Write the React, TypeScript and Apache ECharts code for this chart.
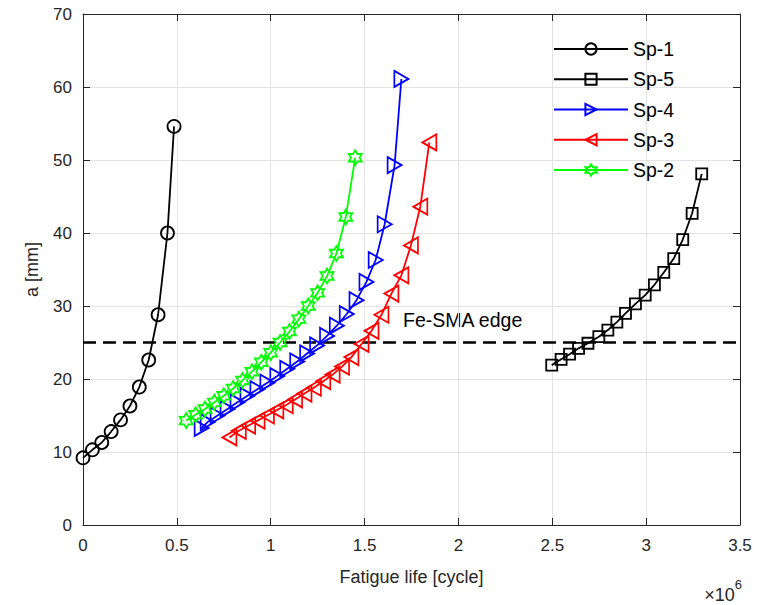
import React, { useEffect, useRef } from "react";
import * as echarts from "echarts";

// Fatigue life in units of 10^6 cycles, crack length a in mm
const sp1Life = [0, 0.05, 0.1, 0.15, 0.2, 0.25, 0.3, 0.35, 0.4, 0.45, 0.485];
const sp1A = [9.2, 10.3, 11.3, 12.8, 14.4, 16.3, 18.9, 22.6, 28.8, 40.0, 54.6];

const sp5Life = [2.497, 2.547, 2.592, 2.64, 2.69, 2.748, 2.796, 2.844, 2.89, 2.943, 2.995, 3.044, 3.094, 3.147, 3.195, 3.245, 3.296];
const sp5A = [21.9, 22.7, 23.4, 24.2, 24.9, 25.8, 26.7, 27.8, 29.0, 30.3, 31.5, 32.9, 34.6, 36.5, 39.1, 42.7, 48.1];

const sp4Life = [0.632, 0.664, 0.717, 0.77, 0.823, 0.876, 0.929, 0.982, 1.035, 1.088, 1.141, 1.194, 1.247, 1.3, 1.352, 1.405, 1.457, 1.51, 1.559, 1.607, 1.66, 1.696];
const sp4A = [13.3, 14.1, 15.0, 15.9, 16.8, 17.7, 18.6, 19.5, 20.4, 21.4, 22.4, 23.5, 24.6, 25.9, 27.3, 28.9, 30.8, 33.3, 36.3, 41.2, 49.3, 61.1];

const sp3Life = [0.78, 0.83, 0.88, 0.93, 0.98, 1.03, 1.08, 1.13, 1.18, 1.23, 1.28, 1.33, 1.38, 1.43, 1.484, 1.537, 1.59, 1.643, 1.696, 1.747, 1.797, 1.845];
const sp3A = [12.0, 12.9, 13.6, 14.3, 15.0, 15.7, 16.4, 17.2, 18.0, 18.8, 19.7, 20.6, 21.7, 23.0, 24.8, 26.6, 28.8, 31.7, 34.2, 38.3, 43.6, 52.4];

const sp2Life = [0.55, 0.6, 0.65, 0.7, 0.75, 0.8, 0.85, 0.9, 0.95, 1.0, 1.05, 1.1, 1.15, 1.2, 1.25, 1.3, 1.35, 1.4, 1.45];
const sp2A = [14.3, 15.1, 15.9, 16.8, 17.7, 18.7, 19.8, 21.0, 22.3, 23.6, 25.0, 26.5, 28.2, 30.0, 31.8, 34.1, 37.2, 42.2, 50.3];

const edgeLife = [0, 3.5];
const edgeA = [25, 25];

const xTicks = { min: 0, max: 3.5, interval: 0.5 };
const yTicks = { min: 0, max: 70, interval: 10 };

const FONT = "'Liberation Sans', Arial, Helvetica, sans-serif";
const AXIS_COLOR = "#262626";

const TRI_RIGHT = "path://M0,0 L10,5 L0,10 Z";
const TRI_LEFT = "path://M10,0 L0,5 L10,10 Z";
const HEXAGRAM =
  "path://M5,0 L6.443,2.5 L9.33,2.5 L7.887,5 L9.33,7.5 L6.443,7.5 L5,10 L3.557,7.5 L0.67,7.5 L2.113,5 L0.67,2.5 L3.557,2.5 Z";

const zip = (xs: number[], ys: number[]) => xs.map((x, i) => [x, ys[i]]);

export default function App() {
  const ref = useRef<HTMLDivElement>(null);

  useEffect(() => {
    document.body.style.margin = "0";
    if (!ref.current) return;
    const chart = echarts.init(ref.current, undefined, { renderer: "svg" });

    const mk = (
      name: string,
      xs: number[],
      ys: number[],
      color: string,
      symbol: string,
      size: number | number[]
    ) => ({
      name,
      type: "line",
      data: zip(xs, ys),
      symbol,
      symbolSize: size,
      showAllSymbol: true,
      lineStyle: { color, width: 1.8 },
      itemStyle: { color: "rgba(255,255,255,0)", borderColor: color, borderWidth: 1.8 },
      emphasis: { disabled: true },
      z: 3,
    });

    const grid = { left: 83, right: 18, top: 14, bottom: 80 };

    chart.setOption({
      animation: false,
      grid,
      legend: {
        orient: "vertical",
        left: 553,
        top: 39,
        itemWidth: 74,
        itemHeight: 14,
        itemGap: 10.25,
        padding: 0,
        data: ["Sp-1", "Sp-5", "Sp-4", "Sp-3", "Sp-2"],
        textStyle: { fontFamily: FONT, fontSize: 19.5, color: "#000", lineHeight: 20 },
      },
      xAxis: [
        {
          type: "value",
          ...xTicks,
          position: "bottom",
          name: "Fatigue life [cycle]",
          nameLocation: "middle",
          nameGap: 43,
          nameTextStyle: { fontFamily: FONT, fontSize: 18, color: AXIS_COLOR },
          axisLine: { show: true, onZero: false, lineStyle: { color: AXIS_COLOR, width: 1 } },
          axisTick: { show: true, inside: true, length: 7, lineStyle: { color: AXIS_COLOR } },
          axisLabel: {
            fontFamily: FONT,
            fontSize: 17,
            color: AXIS_COLOR,
            margin: 12,
            formatter: (v: number) => String(v),
          },
          splitLine: { show: true, lineStyle: { color: "#e3e3e3", width: 1 } },
        },
        {
          type: "value",
          ...xTicks,
          position: "top",
          axisLine: { show: true, onZero: false, lineStyle: { color: AXIS_COLOR, width: 1 } },
          axisTick: { show: true, inside: true, length: 7, lineStyle: { color: AXIS_COLOR } },
          axisLabel: { show: false },
          splitLine: { show: false },
        },
      ],
      yAxis: [
        {
          type: "value",
          ...yTicks,
          position: "left",
          name: "a [mm]",
          nameLocation: "middle",
          nameGap: 42,
          nameRotate: 90,
          nameTextStyle: { fontFamily: FONT, fontSize: 18, color: AXIS_COLOR },
          axisLine: { show: true, onZero: false, lineStyle: { color: AXIS_COLOR, width: 1 } },
          axisTick: { show: true, inside: true, length: 7, lineStyle: { color: AXIS_COLOR } },
          axisLabel: { fontFamily: FONT, fontSize: 17, color: AXIS_COLOR, margin: 11 },
          splitLine: { show: true, lineStyle: { color: "#e3e3e3", width: 1 } },
        },
        {
          type: "value",
          ...yTicks,
          position: "right",
          axisLine: { show: true, onZero: false, lineStyle: { color: AXIS_COLOR, width: 1 } },
          axisTick: { show: true, inside: true, length: 7, lineStyle: { color: AXIS_COLOR } },
          axisLabel: { show: false },
          splitLine: { show: false },
        },
      ],
      series: [
        {
          name: "Fe-SMA edge",
          type: "line",
          data: zip(edgeLife, edgeA),
          symbol: "none",
          lineStyle: { color: "#000", width: 2.6, type: [13, 7] },
          emphasis: { disabled: true },
          z: 2,
        },
        mk("Sp-1", sp1Life, sp1A, "#000000", "circle", 13),
        mk("Sp-5", sp5Life, sp5A, "#000000", "rect", 11),
        mk("Sp-4", sp4Life, sp4A, "#0000ff", TRI_RIGHT, [14, 16]),
        mk("Sp-3", sp3Life, sp3A, "#ff0000", TRI_LEFT, [14, 16]),
        mk("Sp-2", sp2Life, sp2A, "#00ff00", HEXAGRAM, [13, 15]),
      ],
      graphic: [
        {
          type: "text",
          left: 403,
          top: 310,
          style: { text: "Fe-SMA edge", fontFamily: FONT, fontSize: 19.5, fill: "#000" },
        },
        {
          type: "text",
          right: 16,
          top: 578,
          style: {
            text: "{m|×10}{s|6}",
            rich: {
              m: { fontFamily: FONT, fontSize: 18, fill: AXIS_COLOR, verticalAlign: "bottom", padding: [8, 0, 0, 0] },
              s: { fontFamily: FONT, fontSize: 13, fill: AXIS_COLOR, verticalAlign: "top", padding: [0, 0, 8, 0] },
            },
          },
        },
      ],
    });

    return () => chart.dispose();
  }, []);

  return <div ref={ref} style={{ width: 758, height: 605 }} />;
}
